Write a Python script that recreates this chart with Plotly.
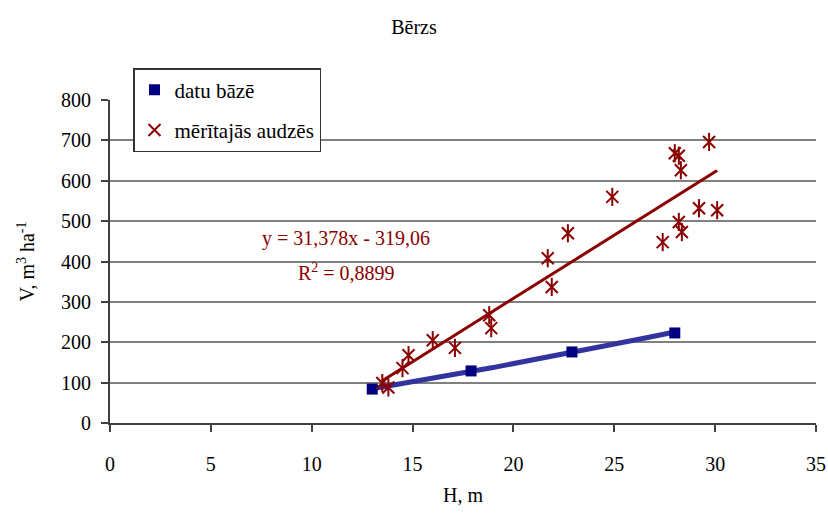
import numpy as np
import plotly.graph_objects as go

title = "Bērzs"
blue_name = "datu bāzē"
red_name = "mērītajās audzēs"

# datu bāzē (database) points
blue_h = [13.0, 17.9, 22.9, 28.0]
blue_v = [84, 129, 176, 223]

# mērītajās audzēs (measured stands) points
red_h = [13.5, 13.8, 14.5, 14.8, 16.0, 17.1, 18.8, 18.9, 21.7, 21.9, 22.7, 24.9,
         27.4, 28.0, 28.2, 28.3, 28.2, 28.35, 29.2, 29.7, 30.1]
red_v = [99, 88, 136, 168, 205, 186, 267, 235, 408, 337, 470, 560,
         448, 668, 662, 626, 498, 473, 532, 696, 527]

# linear trend of measured stands (as printed on chart)
slope = 31.378
intercept = -319.06
r2 = 0.8899

dark_red = "#8B0000"
navy = "#000080"
font = "Liberation Serif"
fs = 20

# power trend for database points
b, log_a = np.polyfit(np.log(blue_h), np.log(blue_v), 1)
bx = np.linspace(min(blue_h), max(blue_h), 60)
by = np.exp(log_a) * bx ** b

rx = np.array([min(red_h), max(red_h)])
ry = slope * rx + intercept

fig = go.Figure()
fig.add_trace(go.Scatter(x=bx, y=by, mode="lines", line=dict(color="#3333A0", width=5),
                         showlegend=False, hoverinfo="skip"))
fig.add_trace(go.Scatter(x=blue_h, y=blue_v, mode="markers", name=blue_name,
                         marker=dict(symbol="square", size=11, color=navy),
                         legendgroup="a"))
fig.add_trace(go.Scatter(x=rx, y=ry, mode="lines", line=dict(color=dark_red, width=3),
                         showlegend=False, hoverinfo="skip"))
fig.add_trace(go.Scatter(x=red_h, y=red_v, mode="markers", showlegend=False,
                         marker=dict(symbol="line-ns-open", size=13,
                                     line=dict(color=dark_red, width=2), color=dark_red),
                         hoverinfo="skip"))
fig.add_trace(go.Scatter(x=red_h, y=red_v, mode="markers", name=red_name,
                         marker=dict(symbol="x-thin-open", size=12,
                                     line=dict(color=dark_red, width=2), color=dark_red),
                         legendgroup="b"))

fig.add_annotation(x=11.7, y=457, xref="x", yref="y",
                   text="y = 31,378x - 319,06", showarrow=False,
                   font=dict(family=font, size=fs, color=dark_red))
fig.add_annotation(x=11.7, y=375, xref="x", yref="y",
                   text="R<sup>2</sup> = " + f"{r2}".replace(".", ","), showarrow=False,
                   font=dict(family=font, size=fs, color=dark_red))

fig.update_layout(
    width=828, height=516,
    margin=dict(l=110, r=12, t=100, b=93),
    paper_bgcolor="white", plot_bgcolor="white",
    font=dict(family=font, size=fs, color="black"),
    title=dict(text=title, x=0.5, xanchor="center", y=1 - 27 / 516, yanchor="middle",
               font=dict(family=font, size=fs, color="black")),
    legend=dict(x=23 / 706, y=(423 - 68) / 323,
                xanchor="left", yanchor="top",
                bordercolor="#333333", borderwidth=1.5, bgcolor="white",
                font=dict(family=font, size=21, color="black"), traceorder="grouped",
                tracegroupgap=10),
    xaxis=dict(range=[0, 35], dtick=5, showgrid=False, zeroline=False, automargin=False,
               showline=True, linecolor="#404040", linewidth=2,
               ticks="outside", ticklen=7, tickcolor="#404040", tickwidth=1.5,
               ticklabelstandoff=15,
               tickfont=dict(family=font, size=fs, color="black"),
               title=dict(text="H, m", standoff=14,
                          font=dict(family=font, size=fs, color="black"))),
    yaxis=dict(range=[0, 800], dtick=100, showgrid=True, gridcolor="#808080", gridwidth=1.5,
               zeroline=False, showline=True, linecolor="#404040", linewidth=2,
               automargin=False,
               ticks="outside", ticklen=7, tickcolor="#404040", tickwidth=1.5,
               ticklabelstandoff=6,
               tickfont=dict(family=font, size=fs, color="black"),
               title=dict(text="V, m<sup>3</sup> ha<sup>-1</sup>", standoff=21,
                          font=dict(family=font, size=fs, color="black"))),
)

fig.write_html("out.html")
